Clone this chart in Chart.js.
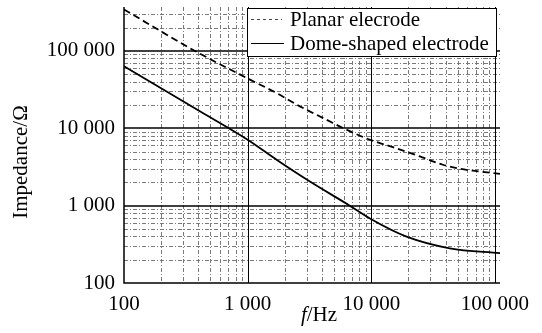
<!DOCTYPE html>
<html>
<head>
<meta charset="utf-8">
<script src="https://cdn.jsdelivr.net/npm/chart.js@4.4.0/dist/chart.umd.min.js"></script>
<style>
  html, body { margin: 0; padding: 0; background: #fff; }
</style>
</head>
<body>
<canvas id="chart" width="542" height="333"></canvas>
<script>
// data (log-log impedance spectrum)
const planarFreq = [100, 375, 1044, 1714, 2650, 4350, 6300, 9750, 15000, 24700, 37900, 52000, 66300, 110000];
const planarZ    = [344000, 100000, 42600, 28600, 19200, 12900, 9600, 7110, 5700, 4330, 3380, 3000, 2830, 2580];
const domeFreq   = [100, 411, 1000, 1714, 3190, 6700, 10000, 19300, 43200, 110000];
const domeZ      = [63400, 16600, 7110, 3920, 2050, 1000, 668, 398, 281, 243];

const xTicks = [100, 1000, 10000, 100000];
const yTicks = [100, 1000, 10000, 100000];
const labels = ["Planar elecrode", "Dome-shaped electrode"];

const FONT = "Liberation Serif";
const FS = 21;
const fmt = v => String(v).replace(/\B(?=(\d{3})+(?!\d))/g, " ");

// grid lines: dashed grey minors, solid black decades
const gridPlugin = {
  id: "logGrid",
  beforeDatasetsDraw(chart) {
    const { ctx, chartArea: a, scales: { x, y } } = chart;
    ctx.save();
    ctx.lineWidth = 1;
    ctx.strokeStyle = "#7a7a7a";
    ctx.setLineDash([4, 2, 1, 2]);
    for (let d = 100; d <= x.max; d *= 10) {
      for (let m = 2; m <= 9; m++) {
        const v = d * m;
        if (v > x.max) break;
        const px = Math.round(x.getPixelForValue(v)) + 0.5;
        ctx.beginPath(); ctx.moveTo(px, a.top); ctx.lineTo(px, a.bottom); ctx.stroke();
      }
    }
    for (let d = 100; d <= y.max; d *= 10) {
      for (let m = 2; m <= 9; m++) {
        const v = d * m;
        if (v > y.max) break;
        const py = Math.round(y.getPixelForValue(v)) + 0.5;
        ctx.beginPath(); ctx.moveTo(a.left, py); ctx.lineTo(a.right, py); ctx.stroke();
      }
    }
    ctx.setLineDash([]);
    ctx.strokeStyle = "#000";
    xTicks.slice(1).forEach(v => {
      const px = Math.round(x.getPixelForValue(v)) + 0.5;
      ctx.beginPath(); ctx.moveTo(px, a.top); ctx.lineTo(px, a.bottom); ctx.stroke();
    });
    ctx.lineWidth = 1.5;
    yTicks.slice(1).forEach(v => {
      const py = Math.round(y.getPixelForValue(v));
      ctx.beginPath(); ctx.moveTo(a.left, py); ctx.lineTo(a.right, py); ctx.stroke();
    });
    // axes
    ctx.lineWidth = 1.5;
    ctx.beginPath();
    ctx.moveTo(a.left, a.top); ctx.lineTo(a.left, a.bottom); ctx.lineTo(a.right, a.bottom);
    ctx.stroke();
    ctx.restore();
  }
};

// legend box inside the plot, axis titles
const decorPlugin = {
  id: "decor",
  afterDraw(chart) {
    const { ctx } = chart;
    ctx.save();
    ctx.fillStyle = "#fff";
    ctx.fillRect(247, 8, 249, 48);
    ctx.strokeStyle = "#000";
    ctx.lineWidth = 1;
    ctx.strokeRect(247.5, 8.5, 249, 48);

    ctx.lineWidth = 1;
    ctx.strokeStyle = "#444";
    ctx.setLineDash([3, 3]);
    ctx.beginPath(); ctx.moveTo(251, 19.5); ctx.lineTo(282, 19.5); ctx.stroke();
    ctx.setLineDash([]);
    ctx.strokeStyle = "#000";
    ctx.beginPath(); ctx.moveTo(251, 43.5); ctx.lineTo(284, 43.5); ctx.stroke();

    ctx.fillStyle = "#000";
    ctx.font = FS + "px " + FONT;
    ctx.textAlign = "left";
    ctx.textBaseline = "middle";
    ctx.fillText(labels[0], 290, 20);
    ctx.fillText(labels[1], 290, 44);

    // x title: italic f + /Hz
    ctx.textBaseline = "alphabetic";
    ctx.font = "italic " + FS + "px " + FONT;
    const fW = ctx.measureText("f").width;
    ctx.font = FS + "px " + FONT;
    const hW = ctx.measureText("/Hz").width;
    const x0 = 319 - (fW + hW) / 2;
    ctx.font = "italic " + FS + "px " + FONT;
    ctx.fillText("f", x0, 321);
    ctx.font = FS + "px " + FONT;
    ctx.fillText("/Hz", x0 + fW, 321);

    // y title
    ctx.translate(21, 162);
    ctx.rotate(-Math.PI / 2);
    ctx.textAlign = "center";
    ctx.textBaseline = "middle";
    ctx.fillText("Impedance/\u03A9", 0, 0);
    ctx.restore();
  }
};

new Chart(document.getElementById("chart"), {
  type: "line",
  data: {
    datasets: [
      {
        label: labels[0],
        data: planarFreq.map((f, i) => ({ x: f, y: planarZ[i] })),
        borderColor: "#000",
        borderWidth: 1.8,
        borderDash: [7, 4],
        pointRadius: 0,
        cubicInterpolationMode: "monotone",
        fill: false
      },
      {
        label: labels[1],
        data: domeFreq.map((f, i) => ({ x: f, y: domeZ[i] })),
        borderColor: "#000",
        borderWidth: 1.8,
        pointRadius: 0,
        cubicInterpolationMode: "monotone",
        fill: false
      }
    ]
  },
  options: {
    responsive: false,
    animation: false,
    layout: { padding: { top: 7, right: 42, left: 0, bottom: 0 } },
    plugins: { legend: { display: false }, tooltip: { enabled: false } },
    scales: {
      x: {
        type: "logarithmic",
        min: 100,
        max: 110000,
        afterBuildTicks: s => { s.ticks = xTicks.map(v => ({ value: v })); },
        afterFit: s => { s.height = 50; s.paddingLeft = 0; s.paddingRight = 0; },
        grid: { display: false, drawTicks: false },
        border: { display: false },
        ticks: {
          color: "#000",
          padding: 9,
          maxRotation: 0,
          autoSkip: false,
          font: { family: FONT, size: FS },
          callback: v => fmt(v)
        }
      },
      y: {
        type: "logarithmic",
        min: 100,
        max: 370000,
        afterBuildTicks: s => { s.ticks = yTicks.map(v => ({ value: v })); },
        afterFit: s => { s.width = 124; s.paddingTop = 0; s.paddingBottom = 0; },
        grid: { display: false, drawTicks: false },
        border: { display: false },
        ticks: {
          color: "#000",
          padding: 9,
          autoSkip: false,
          font: { family: FONT, size: FS },
          callback: v => fmt(v)
        }
      }
    }
  },
  plugins: [gridPlugin, decorPlugin]
});
</script>
</body>
</html>
